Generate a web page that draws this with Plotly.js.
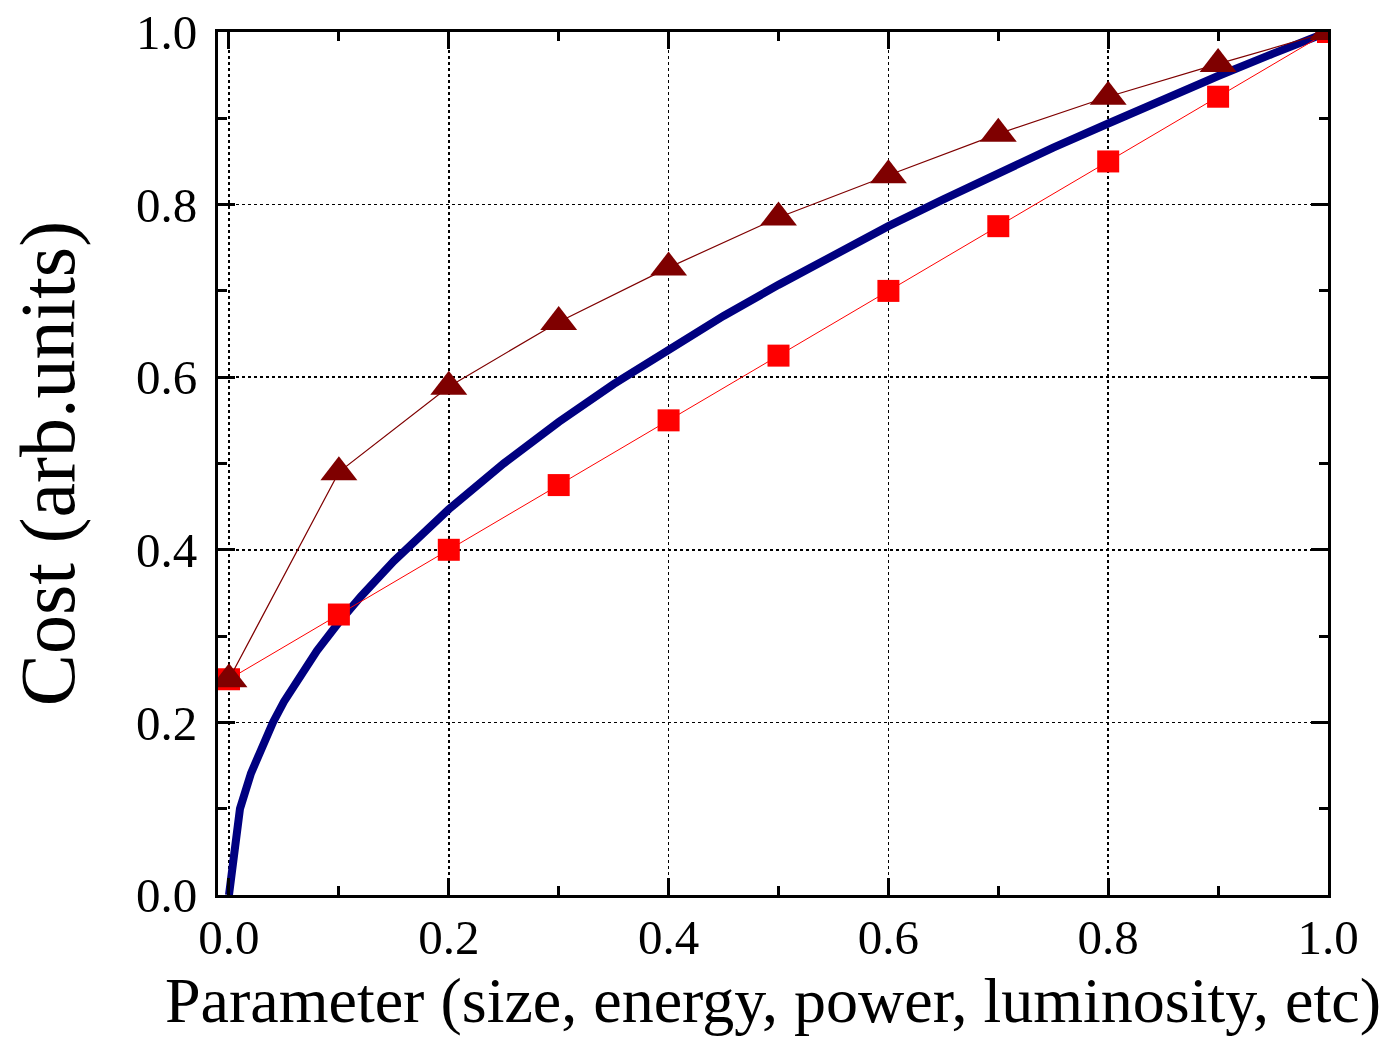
<!DOCTYPE html>
<html>
<head>
<meta charset="utf-8">
<script src="https://cdn.plot.ly/plotly-3.0.1.min.js"></script>
<style>html,body{margin:0;padding:0;background:#fff;}#chart{width:1389px;height:1039px;}</style>
</head>
<body>
<div id="chart"></div>
<script>
// Smooth curve (blue) readings
const curveX = [0, 0.01, 0.02, 0.03, 0.04, 0.05, 0.06, 0.08, 0.10, 0.12, 0.15, 0.20, 0.25, 0.30, 0.35, 0.40, 0.45, 0.50, 0.55, 0.60, 0.65, 0.70, 0.75, 0.80, 0.85, 0.90, 0.95, 1.00];
const curveY = [0, 0.100, 0.141, 0.173, 0.200, 0.224, 0.245, 0.283, 0.316, 0.346, 0.387, 0.447, 0.500, 0.548, 0.592, 0.632, 0.671, 0.707, 0.742, 0.775, 0.806, 0.837, 0.866, 0.894, 0.922, 0.949, 0.975, 1.000];

// Marker series
const pointX = [0.0, 0.1, 0.2, 0.3, 0.4, 0.5, 0.6, 0.7, 0.8, 0.9, 1.0];
const triangleY = [0.25, 0.49, 0.589, 0.664, 0.727, 0.785, 0.834, 0.882, 0.925, 0.963, 1.0];
const squareY = [0.25, 0.325, 0.40, 0.475, 0.55, 0.625, 0.70, 0.775, 0.85, 0.925, 1.0];

const tickVals = [0, 0.2, 0.4, 0.6, 0.8, 1.0];
const tickText = ['0.0', '0.2', '0.4', '0.6', '0.8', '1.0'];

const serif = 'Liberation Serif, Times New Roman, serif';

const traces = [
  {x: curveX, y: curveY, mode: 'lines', line: {color: '#000080', width: 8, shape: 'linear'}, showlegend: false},
  {x: pointX, y: squareY, mode: 'lines+markers', line: {color: '#ff0000', width: 1}, marker: {symbol: 'square', size: 22, color: '#ff0000'}, showlegend: false},
  {x: pointX, y: triangleY, mode: 'lines+markers', line: {color: '#7f0000', width: 1.2}, marker: {symbol: 'triangle-up', size: 32, color: '#7f0000'}, showlegend: false}
];

const axisCommon = {
  showline: true, linecolor: '#000', linewidth: 3, mirror: 'ticks',
  ticks: 'inside', ticklen: 17, tickwidth: 3, tickcolor: '#000',
  tickvals: tickVals, ticktext: tickText,
  showgrid: true, gridcolor: '#000', gridwidth: 1.5, griddash: 'dot',
  zeroline: false,
  minor: {ticks: 'inside', ticklen: 9, tickwidth: 3, tickcolor: '#000', dtick: 0.1, tick0: 0, showgrid: false},
  tickfont: {family: serif, size: 49, color: '#000'}
};

const layout = {
  width: 1389, height: 1039,
  margin: {l: 218, r: 61, t: 32, b: 144},
  paper_bgcolor: '#fff', plot_bgcolor: '#fff',
  xaxis: Object.assign({}, axisCommon, {
    range: [-0.01, 1.0],
    ticklabelstandoff: -3,
    title: {text: 'Parameter (size, energy, power, luminosity, etc)', font: {family: serif, size: 64, color: '#000'}, standoff: 10}
  }),
  yaxis: Object.assign({}, axisCommon, {
    range: [0, 1.0],
    ticklabelstandoff: 8,
    title: {text: 'Cost (arb.units)', font: {family: serif, size: 78, color: '#000'}, standoff: 36}
  })
};

Plotly.newPlot('chart', traces, layout, {displayModeBar: false, staticPlot: true});
</script>
</body>
</html>
